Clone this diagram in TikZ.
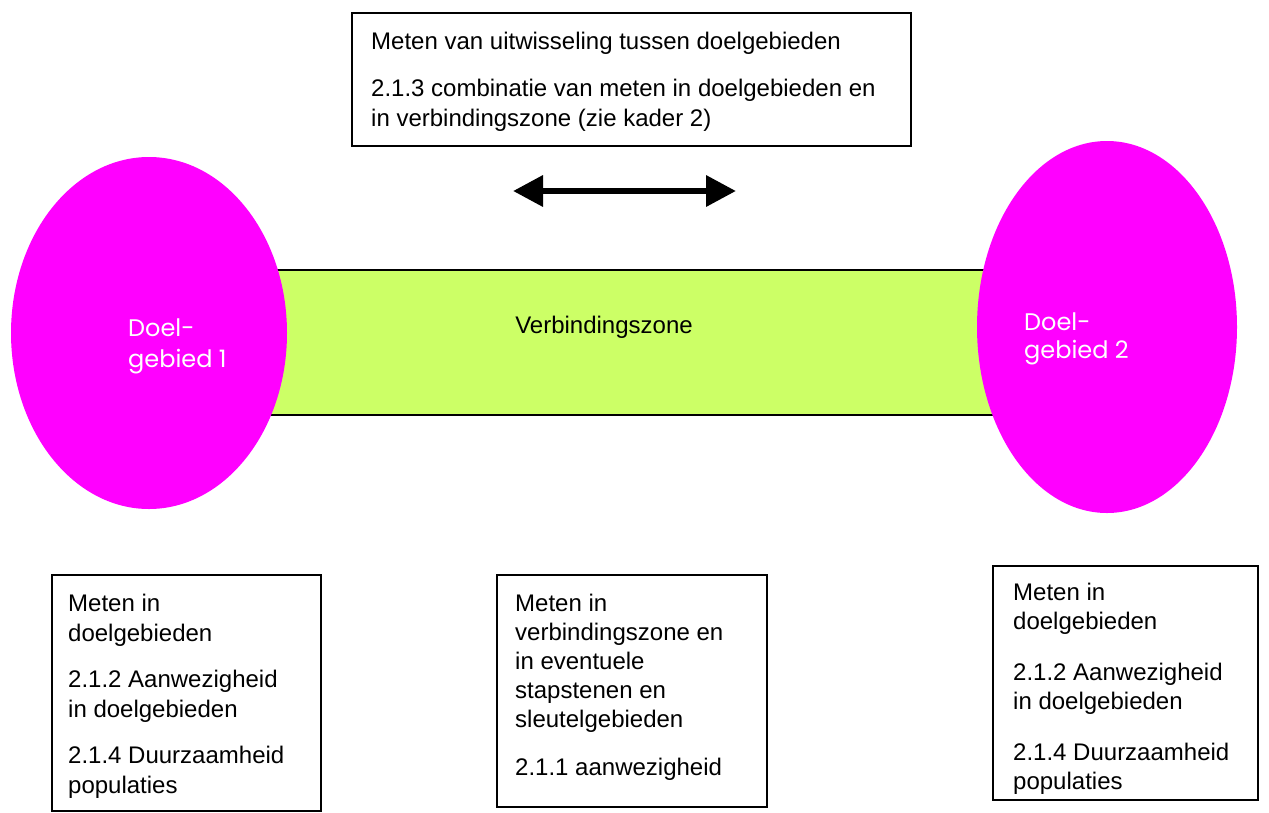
\documentclass[tikz,border=0pt]{standalone}
\usepackage{fontspec}
\setmainfont{Liberation Sans}
\newfontfamily\gothic{Poppins}
\usetikzlibrary{arrows.meta}
\definecolor{zonegreen}{HTML}{CCFF66}
\definecolor{doelmag}{HTML}{FF00FF}
\tikzset{
  frame/.style={draw=black, line width=1.2pt, fill=white, rectangle, inner sep=0pt},
  boxtext/.style={anchor=north west, inner sep=0pt, align=left, text=black},
  doeltext/.style={anchor=north west, inner sep=0pt, align=left, text=white, font=\gothic\fontsize{24}{31}\selectfont},
  doel/.style={fill=doelmag, draw=none, ellipse},
}
\begin{document}
\begin{tikzpicture}[x=1pt,y=-1pt]
\useasboundingbox (0,0) rectangle (1269,812);
% top box
\draw[frame] (352,13) rectangle (911,146);
\node[boxtext, font=\fontsize{24}{30}\selectfont] (toptext) at (371,31.5)
  {Meten van uitwisseling tussen doelgebieden\\[17pt]2.1.3 combinatie van meten in doelgebieden en\\in verbindingszone (zie kader 2)};
% arrow
\coordinate (al) at (513,191);
\coordinate (ar) at (736,191);
\draw[line width=6.5pt, {Triangle[length=30pt,width=30pt]}-{Triangle[length=30pt,width=30pt]}] (al) -- (ar);
% zone
\draw[fill=zonegreen, draw=black, line width=1.2pt] (200,270) rectangle (1060,415);
\node[anchor=base, inner sep=0pt, font=\fontsize{24}{30}\selectfont] (zone) at (604,333) {Verbindingszone};
% ellipses
\fill[doelmag] (149,333) ellipse [x radius=138, y radius=176];
\fill[doelmag] (1107,327) ellipse [x radius=130, y radius=186];
\node[doeltext] (d1) at (128,318.5) {Doel-\\gebied 1};
\node[doeltext, font=\gothic\fontsize{24}{28}\selectfont] (d2) at (1024,312.5) {Doel-\\gebied 2};
% bottom boxes
\draw[frame] (52,575) rectangle (321,811);
\node[boxtext, font=\fontsize{24}{30}\selectfont] (lt) at (68,593.5)
  {Meten in\\doelgebieden\\[16pt]2.1.2 Aanwezigheid\\in doelgebieden\\[16pt]2.1.4 Duurzaamheid\\populaties};
\draw[frame] (497,575) rectangle (767,807);
\node[boxtext, font=\fontsize{24}{29}\selectfont] (mt) at (515,593.5)
  {Meten in\\verbindingszone en\\in eventuele\\stapstenen en\\sleutelgebieden\\[19pt]2.1.1 aanwezigheid};
\draw[frame] (993,566) rectangle (1258,800);
\node[boxtext, font=\fontsize{24}{29}\selectfont] (rt) at (1013,582.5)
  {Meten in\\doelgebieden\\[22pt]2.1.2 Aanwezigheid\\in doelgebieden\\[22pt]2.1.4 Duurzaamheid\\populaties};
\end{tikzpicture}
\end{document}
